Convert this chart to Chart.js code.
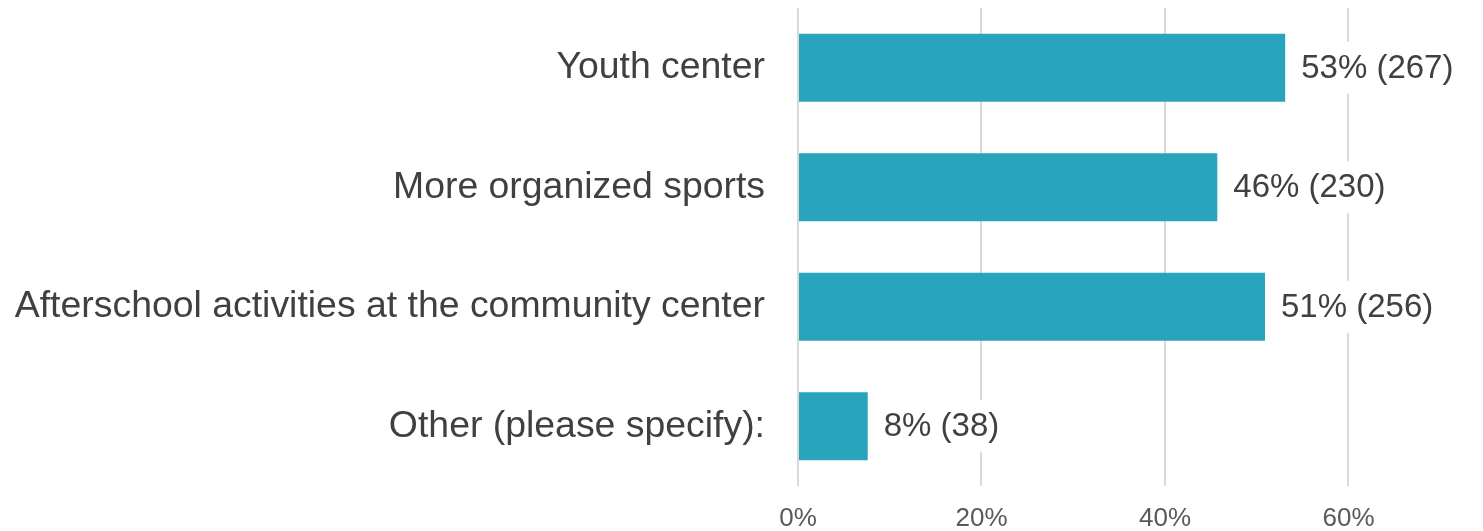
<!DOCTYPE html>
<html>
<head>
<meta charset="utf-8">
<script src="https://cdn.jsdelivr.net/npm/chart.js@4/dist/chart.umd.min.js"></script>
<style>
  html, body { margin:0; padding:0; background:#fff; }
  #wrap { width:1483px; height:531px; position:relative; }
</style>
</head>
<body>
<div id="wrap"><canvas id="chart"></canvas></div>
<script>
const categories = ['Youth center', 'More organized sports', 'Afterschool activities at the community center', 'Other (please specify):'];
const percents = [53.1, 45.7, 50.9, 7.6];
const counts = [267, 230, 256, 38];
const xTicks = [0, 20, 40, 60];

const barColor = '#29a4bd';
const textColor = '#404040';
const fontFamily = '"Liberation Sans", Arial, sans-serif';

const valueLabels = {
  id: 'valueLabels',
  afterDatasetsDraw(chart){
    const ctx = chart.ctx;
    const meta = chart.getDatasetMeta(0);
    ctx.save();
    ctx.font = `33px ${fontFamily}`;
    ctx.textBaseline = 'middle';
    ctx.textAlign = 'left';
    meta.data.forEach((bar, i)=>{
      const txt = `${Math.round(percents[i])}% (${counts[i]})`;
      const x = bar.x + 16;
      const w = ctx.measureText(txt).width;
      ctx.fillStyle = '#fff';
      ctx.fillRect(x - 4, bar.y - 26, w + 8, 52);
      ctx.fillStyle = textColor;
      ctx.fillText(txt, x, bar.y + 1);
    });
    ctx.restore();
  }
};

new Chart(document.getElementById('chart'), {
  type: 'bar',
  data: { labels: categories, datasets: [{ data: percents, backgroundColor: barColor, barPercentage: 0.57, categoryPercentage: 1 }] },
  options: {
    indexAxis: 'y',
    responsive: true,
    maintainAspectRatio: false,
    animation: false,
    layout: { padding: { top: 8, left: 0, right: 0, bottom: 0 } },
    plugins: { legend: { display: false }, tooltip: { enabled: false } },
    scales: {
      x: {
        min: 0, max: 74.66,
        afterBuildTicks: s => { s.ticks = xTicks.map(v => ({ value: v })); },
        afterFit: s => { s.height = 45; s.paddingLeft = 0; s.paddingRight = 0; },
        grid: { color: '#d9d9d9', lineWidth: 2, drawTicks: false },
        border: { display: false },
        ticks: { padding: 17, color: '#595959', font: { family: fontFamily, size: 26 }, callback: v => v + '%' }
      },
      y: {
        afterFit: s => { s.width = 798; s.paddingTop = 0; s.paddingBottom = 0; },
        grid: { display: false, drawTicks: false },
        border: { display: false },
        ticks: { padding: 33, color: textColor, font: { family: fontFamily, size: 37.4 } }
      }
    }
  },
  plugins: [valueLabels]
});
</script>
</body>
</html>
